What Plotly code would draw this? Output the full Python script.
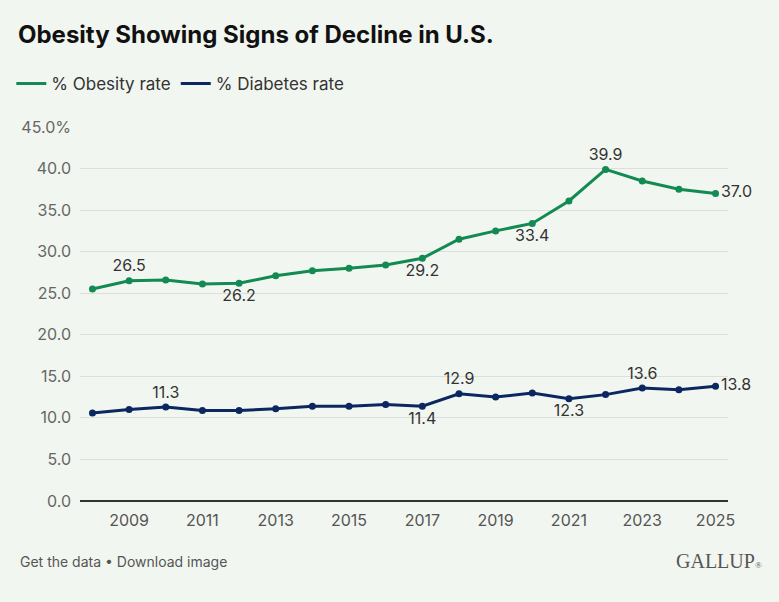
import plotly.graph_objects as go

# data
years = list(range(2008, 2026))
obesity = [25.5, 26.5, 26.6, 26.1, 26.2, 27.1, 27.7, 28.0, 28.4, 29.2,
           31.5, 32.5, 33.4, 36.1, 39.9, 38.5, 37.5, 37.0]
diabetes = [10.6, 11.0, 11.3, 10.9, 10.9, 11.1, 11.4, 11.4, 11.6, 11.4,
            12.9, 12.5, 13.0, 12.3, 12.8, 13.6, 13.4, 13.8]

# which points get a value label, and where it sits
obesity_labels = {2009: "top center", 2012: "bottom center", 2017: "bottom center",
                  2020: "bottom center", 2022: "top center", 2025: "middle right"}
diabetes_labels = {2010: "top center", 2017: "bottom center", 2018: "top center",
                   2021: "bottom center", 2023: "top center", 2025: "middle right"}

y_ticks = [0, 5, 10, 15, 20, 25, 30, 35, 40, 45]
y_ticktext = ["0.0", "5.0", "10.0", "15.0", "20.0", "25.0", "30.0", "35.0", "40.0", "45.0%"]
x_ticks = list(range(2009, 2026, 2))

GREEN = "#138a52"
NAVY = "#0b2760"
BG = "#f2f6f0"
FONT = "Inter"


def labels_for(vals, label_map):
    text = [f"{v:.1f}" if y in label_map else " " for y, v in zip(years, vals)]
    pos = [label_map.get(y, "top center") for y in years]
    return text, pos


fig = go.Figure()

for name, vals, color, lab in [("% Obesity rate", obesity, GREEN, obesity_labels),
                               ("% Diabetes rate", diabetes, NAVY, diabetes_labels)]:
    text, pos = labels_for(vals, lab)
    fig.add_trace(go.Scatter(
        x=years, y=vals, name=name, showlegend=False,
        mode="lines+markers+text",
        line=dict(color=color, width=3),
        marker=dict(color=color, size=7),
        text=text, textposition=pos,
        textfont=dict(family=FONT, size=16, color="#333333"),
        cliponaxis=False,
        hovertemplate="%{x}: %{y:.1f}<extra>" + name + "</extra>",
    ))
    # legend entry: line only, like the original
    fig.add_trace(go.Scatter(x=[None], y=[None], name=name, mode="lines",
                             line=dict(color=color, width=3), hoverinfo="skip"))

fig.update_layout(
    width=779, height=602,
    paper_bgcolor=BG, plot_bgcolor=BG,
    margin=dict(l=80, r=51, t=127, b=101, autoexpand=False),
    font=dict(family=FONT, color="#555555", size=15),
    title=dict(text="<b>Obesity Showing Signs of Decline in U.S.</b>",
               x=18 / 779, xanchor="left", y=1 - 35 / 602, yanchor="middle",
               font=dict(family=FONT, size=24, color="#111111")),
    legend=dict(orientation="h", x=-0.106, xanchor="left", y=1.115, yanchor="middle",
                font=dict(family=FONT, size=17, color="#333333"),
                bgcolor="rgba(0,0,0,0)", itemwidth=30, traceorder="normal"),
    showlegend=True,
)

fig.update_xaxes(range=[2007.66, 2025.34], tickvals=x_ticks, showgrid=False,
                 zeroline=False, showline=False, ticks="", ticklabelstandoff=8,
                 tickfont=dict(family=FONT, size=16, color="#555555"))
fig.update_yaxes(range=[0, 45], tickvals=y_ticks, ticktext=y_ticktext,
                 showgrid=True, gridcolor="#dcdfdb", gridwidth=1,
                 zeroline=True, zerolinecolor="#333333", zerolinewidth=1.5,
                 showline=False, ticks="", ticklabelstandoff=8,
                 tickfont=dict(family=FONT, size=16, color="#666666"))

fig.add_annotation(text="Get the data • Download image", xref="paper", yref="paper",
                   x=-62 / 648, y=-(561 - 501) / 374, xanchor="left", yanchor="middle",
                   showarrow=False, font=dict(family=FONT, size=14, color="#555555"))
fig.add_annotation(text="GALLUP<span style='font-size:9px'>®</span>", xref="paper", yref="paper",
                   x=(764 - 80) / 648, y=-(561 - 501) / 374, xanchor="right", yanchor="middle",
                   showarrow=False, font=dict(family="Liberation Serif", size=20, color="#555555"))

fig.write_html("out.html", config={"displayModeBar": False},
               post_script="document.body.style.margin='0';")
